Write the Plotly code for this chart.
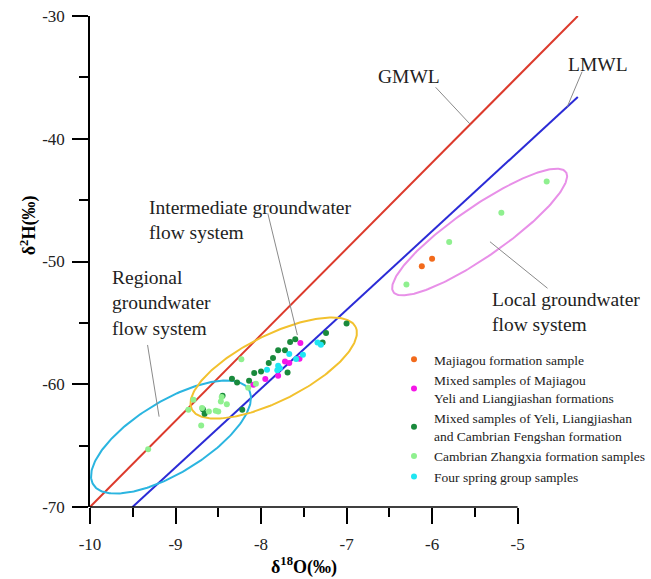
import numpy as np
import plotly.graph_objects as go

# ---------------- data ----------------
majiagou_x = [-6.12, -6.00]
majiagou_y = [-50.38, -49.78]

mixed_mj_x = [-7.54, -7.55, -7.72, -7.67, -7.80, -7.95, -8.09]
mixed_mj_y = [-56.64, -57.92, -58.14, -58.27, -59.31, -59.58, -60.04]

mixed_yl_x = [-7.00, -7.24, -7.28, -7.66, -7.60, -7.80, -7.72, -7.86, -7.91, -8.00,
              -8.08, -8.14, -7.69, -8.34, -8.28, -8.45, -8.68, -8.66, -8.22]
mixed_yl_y = [-55.06, -55.82, -56.59, -56.55, -56.33, -57.24, -57.24, -57.86, -58.27, -58.96,
              -59.09, -59.71, -59.04, -59.55, -59.85, -60.94, -62.04, -62.41, -62.08]

zhangxia_x = [-4.66, -5.19, -5.80, -6.30, -9.32, -8.79, -8.85, -8.70, -8.61, -8.53,
              -8.50, -8.46, -8.47, -8.40, -8.69, -8.15, -8.06, -8.23]
zhangxia_y = [-43.49, -46.02, -48.42, -51.88, -65.30, -61.27, -62.08, -63.36, -62.22, -62.16,
              -62.22, -61.04, -61.40, -61.62, -61.94, -60.29, -59.96, -57.97]

spring_x = [-7.34, -7.30, -7.51, -7.59, -7.67, -7.80, -7.78, -7.81, -7.93]
spring_y = [-56.59, -56.78, -57.59, -57.94, -57.53, -58.49, -58.69, -58.86, -58.82]

gmwl_x = [-10.0, -4.296]
gmwl_y = [-70.0, -30.0]
lmwl_x = [-9.503, -4.296]
lmwl_y = [-70.0, -36.60]

x_ticks = [-10, -9, -8, -7, -6, -5]
x_ticktext = ["-10", "-9", "-8", "-7", "-6", "-5"]
x_minor = [-9.5, -8.5, -7.5, -6.5, -5.5]
y_ticks = [-70, -60, -50, -40, -30]
y_ticktext = ["-70", "-60", "-50", "-40", "-30"]
y_minor = [-65, -55, -45, -35]

# ellipses: centre x, centre y, semi-axes (x units), tilt (deg)
ell_regional = (-9.053, -64.30, 1.062, 0.416, 31.0)
ell_intermediate = (-7.852, -58.68, 1.069, 0.381, 26.3)
ell_local = (-5.444, -47.60, 1.224, 0.289, 34.4)
ASPECT = 86.6 / 12.275  # y-units per x-unit on screen

FONT = "Liberation Serif"


def ellipse(p, n=240):
    cx, cy, a, b, ang = p
    t = np.linspace(0, 2 * np.pi, n)
    th = np.radians(ang)
    dx = a * np.cos(th) * np.cos(t) - b * np.sin(th) * np.sin(t)
    dy = a * np.sin(th) * np.cos(t) + b * np.cos(th) * np.sin(t)
    return cx + dx, cy + dy * ASPECT


fig = go.Figure()

fig.add_trace(go.Scatter(x=gmwl_x, y=gmwl_y, mode="lines", line=dict(color="#dc3a2c", width=2),
                         showlegend=False, hoverinfo="skip"))
fig.add_trace(go.Scatter(x=lmwl_x, y=lmwl_y, mode="lines", line=dict(color="#2b2bd6", width=2),
                         showlegend=False, hoverinfo="skip"))

for p, c in [(ell_regional, "#2bb5e0"), (ell_intermediate, "#f2c12e"), (ell_local, "#e890e8")]:
    ex, ey = ellipse(p)
    fig.add_trace(go.Scatter(x=ex, y=ey, mode="lines", line=dict(color=c, width=2),
                             showlegend=False, hoverinfo="skip"))

series = [
    ("Majiagou formation sample", majiagou_x, majiagou_y, "#f26a1b"),
    ("Mixed samples of Majiagou<br>Yeli and Liangjiashan formations", mixed_mj_x, mixed_mj_y, "#f516e8"),
    ("Mixed samples of Yeli, Liangjiashan<br>and Cambrian Fengshan formation", mixed_yl_x, mixed_yl_y, "#1a8a3c"),
    ("Cambrian Zhangxia formation samples", zhangxia_x, zhangxia_y, "#8ff08f"),
    ("Four spring group samples", spring_x, spring_y, "#1fe6f2"),
]
for name, xs, ys, col in series:
    fig.add_trace(go.Scatter(x=xs, y=ys, mode="markers", name=name,
                             marker=dict(color=col, size=6, line=dict(width=0))))

gray = "#8a8a8a"
leaders = [
    (-5.958, -35.81, -5.554, -38.82),
    (-4.246, -34.54, -4.419, -37.39),
    (-7.921, -46.07, -7.575, -55.99),
    (-9.327, -56.80, -9.192, -62.64),
    (-5.323, -48.39, -4.650, -52.18),
]
shapes = [dict(type="line", xref="x", yref="y", x0=a, y0=b, x1=c, y1=d,
               line=dict(color=gray, width=1)) for a, b, c, d in leaders]
shapes.append(dict(type="line", xref="x", yref="paper", x0=-10, x1=-5, y0=0, y1=0,
                   line=dict(color="black", width=1.5)))

ann_font = dict(family=FONT, size=19.5, color="#222222")
annotations = [
    dict(x=-6.651, y=-34.89, text="GMWL", xanchor="left", yanchor="middle"),
    dict(x=-4.438, y=-33.99, text="LMWL", xanchor="left", yanchor="middle"),
    dict(x=-9.338, y=-46.64, text="Intermediate groundwater<br>flow system", xanchor="left",
         yanchor="middle", align="left"),
    dict(x=-9.761, y=-53.38, text="Regional<br>groundwater<br>flow system", xanchor="left",
         yanchor="middle", align="left"),
    dict(x=-5.323, y=-54.09, text="Local groundwater<br>flow system", xanchor="left",
         yanchor="middle", align="left"),
]
for a in annotations:
    a.update(xref="x", yref="y", showarrow=False, font=ann_font)

annotations.append(dict(x=-7.5, xref="x", y=-0.12, yref="paper", showarrow=False,
                        text="<b>δ<sup>18</sup>O(‰)</b>", font=dict(family=FONT, size=18, color="black"),
                        xanchor="center", yanchor="middle"))
annotations.append(dict(x=-0.11, xref="paper", y=0.574, yref="paper", showarrow=False,
                        text="<b>δ<sup>2</sup>H(‰)</b>", textangle=-90,
                        font=dict(family=FONT, size=18, color="black"),
                        xanchor="center", yanchor="middle"))

fig.update_layout(
    width=651, height=579,
    margin=dict(l=90, r=0, t=16, b=72),
    paper_bgcolor="white", plot_bgcolor="white",
    font=dict(family=FONT, color="black"),
    shapes=shapes, annotations=annotations,
    legend=dict(x=0.549, y=0.332, xanchor="left", yanchor="top",
                font=dict(family=FONT, size=13.5, color="#222222"),
                bgcolor="rgba(0,0,0,0)", itemwidth=30, tracegroupgap=0),
    xaxis=dict(range=[-10, -3.522], tickmode="array", tickvals=x_ticks, ticktext=x_ticktext,
               ticks="outside", ticklen=16, tickwidth=1.5, tickcolor="black",
               showline=False, showgrid=False, zeroline=False,
               tickfont=dict(family=FONT, size=17, color="#222222"), ticklabelstandoff=6,
               minor=dict(tickmode="array", tickvals=x_minor, ticks="outside", ticklen=9,
                          tickwidth=1.5, tickcolor="black", showgrid=False)),
    yaxis=dict(range=[-70, -30], tickmode="array", tickvals=y_ticks, ticktext=y_ticktext,
               ticks="outside", ticklen=16, tickwidth=1.5, tickcolor="black",
               showline=True, linecolor="black", linewidth=1.5,
               showgrid=False, zeroline=False,
               tickfont=dict(family=FONT, size=17, color="#222222"), ticklabelstandoff=4,
               minor=dict(tickmode="array", tickvals=y_minor, ticks="outside", ticklen=9,
                          tickwidth=1.5, tickcolor="black", showgrid=False)),
)

fig.write_html("out.html")
